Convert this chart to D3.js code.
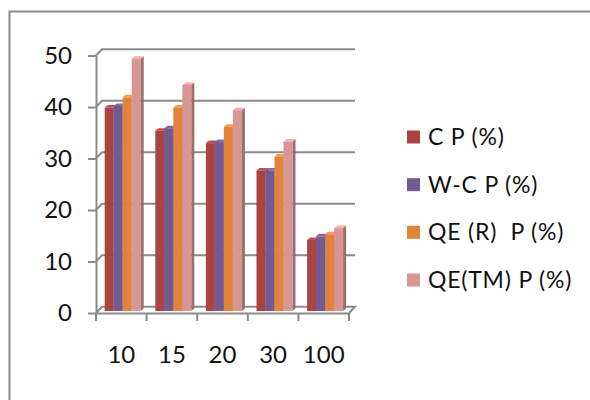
<!DOCTYPE html>
<html><head><meta charset="utf-8">
<script src="https://cdn.jsdelivr.net/npm/d3@7"></script>
<style>html,body{margin:0;padding:0;background:#fff;}svg{display:block;}</style>
</head><body>
<svg id="c" width="590" height="400"></svg>
<script>
const categories = ["10", "15", "20", "30", "100"];
const seriesNames = ["C P (%)", "W-C P (%)", "QE (R)  P (%)", "QE(TM) P (%)"];
const cpValues   = [39.5, 35.0, 32.6, 27.3, 13.8];
const wcpValues  = [39.8, 35.5, 32.8, 27.3, 14.5];
const qerValues  = [41.5, 39.5, 35.8, 30.0, 14.9];
const qetmValues = [49.0, 43.9, 39.0, 32.9, 16.1];
const yTicks = [0, 10, 20, 30, 40, 50];
const colors = ["#AA4443", "#735A93", "#E0843C", "#D69694"];
const series = [cpValues, wcpValues, qerValues, qetmValues];

const svg = d3.select("#c");
const font = "Lato, 'Open Sans', sans-serif";
const gray = "#8a8a8a";

// outer border
svg.append("rect").attr("x", 9.5).attr("y", 11.5).attr("width", 600).attr("height", 400)
  .attr("fill", "none").attr("stroke", gray).attr("stroke-width", 2);

const x = d3.scaleBand().domain(categories).range([96, 349]);
const y = d3.scaleLinear().domain([0, 50]).range([313, 55.5]);
const dX = 6, dY = 6.3;

// gridlines (side wall + back wall)
const g = svg.append("g");
yTicks.forEach(v => {
  const yf = y(v), yb = yf - dY;
  if (v === 0) {
    g.append("path").attr("d", `M${96},${yf}L${96 + dX},${yb}L${349 + dX},${yb}L${349},${yf}`)
      .attr("fill", "none").attr("stroke", gray).attr("stroke-width", 2);
  } else {
    g.append("path").attr("d", `M${96},${yf}L${96 + dX},${yb}L${349 + dX},${yb}`)
      .attr("fill", "none").attr("stroke", gray).attr("stroke-width", 2);
  }
});

// front axes
const yAxis = d3.axisLeft(y).tickValues(yTicks).tickSize(8).tickPadding(16).tickSizeOuter(0);
const ya = svg.append("g").attr("transform", "translate(96,0)").call(yAxis);
ya.select(".domain").attr("stroke", gray).attr("stroke-width", 2);
ya.selectAll(".tick line").attr("stroke", gray).attr("stroke-width", 2);
ya.selectAll("text").attr("font-family", font).attr("font-size", 24).attr("fill", "#111");

const xAxis = d3.axisBottom(x).tickSize(0).tickPadding(33).tickSizeOuter(0);
const xa = svg.append("g").attr("transform", "translate(0,313)").call(xAxis);
xa.select(".domain").attr("stroke", gray).attr("stroke-width", 2);
xa.selectAll("text").attr("font-family", font).attr("font-size", 24).attr("fill", "#111");
// category boundary ticks
const bounds = categories.map(c => x(c)).concat([x.range()[1]]);
xa.selectAll(".btick").data(bounds).enter().append("line")
  .attr("x1", d => d).attr("x2", d => d).attr("y1", 0).attr("y2", 8)
  .attr("stroke", gray).attr("stroke-width", 2);

// bars
const bw = 9, pad = 8.7, cdx = 3, cdy = 2.5, base = 311;
const bars = svg.append("g");
categories.forEach((c, ci) => {
  series.forEach((s, si) => {
    const v = s[ci];
    const x0 = x(c) + pad + si * bw;
    const yt = y(v) - 2;
    const col = d3.color(colors[si]);
    bars.append("path").attr("d",
      `M${x0 + bw},${yt}L${x0 + bw + cdx},${yt - cdy}L${x0 + bw + cdx},${base - cdy}L${x0 + bw},${base}Z`)
      .attr("fill", col.darker(0.9));
    bars.append("path").attr("d",
      `M${x0},${yt}L${x0 + cdx},${yt - cdy}L${x0 + bw + cdx},${yt - cdy}L${x0 + bw},${yt}Z`)
      .attr("fill", col.brighter(0.4));
    bars.append("rect").attr("x", x0).attr("y", yt).attr("width", bw).attr("height", base - yt)
      .attr("fill", col);
  });
});

// legend
const leg = svg.append("g");
const legY = d3.scalePoint().domain(seriesNames).range([137, 280]);
seriesNames.forEach((n, i) => {
  leg.append("rect").attr("x", 407).attr("y", legY(n) - 6.5).attr("width", 13).attr("height", 13)
    .attr("fill", colors[i]);
  leg.append("text").attr("x", 428).attr("y", legY(n)).attr("dy", "0.35em")
    .attr("font-family", font).attr("font-size", 23).attr("fill", "#111")
    .attr("letter-spacing", 0.8)
    .attr("xml:space", "preserve").style("white-space", "pre").text(n);
});
</script>
</body></html>
